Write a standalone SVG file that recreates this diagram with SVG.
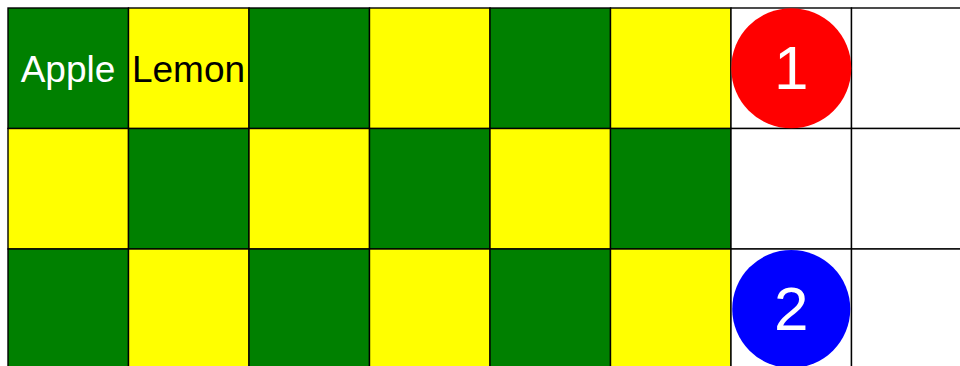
<svg xmlns="http://www.w3.org/2000/svg" width="960" height="366" viewBox="0 0 960 366">
<style>
.c{stroke:#000;stroke-width:1.4}
.g{fill:#008000}
.y{fill:#ffff00}
.w{fill:#fff}
text{font-family:"Liberation Sans",Arial,sans-serif;text-anchor:middle}
.lbl{font-size:37px}
.num{font-size:62px;fill:#fff}
</style>
<rect width="960" height="366" fill="#fff"/>
<g id="grid">
<rect class="c g" x="8" y="8" width="120.5" height="120.5"/>
<rect class="c y" x="128.5" y="8" width="120.5" height="120.5"/>
<rect class="c g" x="249" y="8" width="120.5" height="120.5"/>
<rect class="c y" x="369.5" y="8" width="120.5" height="120.5"/>
<rect class="c g" x="490" y="8" width="120.5" height="120.5"/>
<rect class="c y" x="610.5" y="8" width="120.5" height="120.5"/>
<rect class="c w" x="731" y="8" width="120.5" height="120.5"/>
<rect class="c w" x="851.5" y="8" width="120.5" height="120.5"/>
<rect class="c y" x="8" y="128.5" width="120.5" height="120.5"/>
<rect class="c g" x="128.5" y="128.5" width="120.5" height="120.5"/>
<rect class="c y" x="249" y="128.5" width="120.5" height="120.5"/>
<rect class="c g" x="369.5" y="128.5" width="120.5" height="120.5"/>
<rect class="c y" x="490" y="128.5" width="120.5" height="120.5"/>
<rect class="c g" x="610.5" y="128.5" width="120.5" height="120.5"/>
<rect class="c w" x="731" y="128.5" width="120.5" height="120.5"/>
<rect class="c w" x="851.5" y="128.5" width="120.5" height="120.5"/>
<rect class="c g" x="8" y="249" width="120.5" height="120.5"/>
<rect class="c y" x="128.5" y="249" width="120.5" height="120.5"/>
<rect class="c g" x="249" y="249" width="120.5" height="120.5"/>
<rect class="c y" x="369.5" y="249" width="120.5" height="120.5"/>
<rect class="c g" x="490" y="249" width="120.5" height="120.5"/>
<rect class="c y" x="610.5" y="249" width="120.5" height="120.5"/>
<rect class="c w" x="731" y="249" width="120.5" height="120.5"/>
<rect class="c w" x="851.5" y="249" width="120.5" height="120.5"/>
</g>
<g id="apple"><text class="lbl" x="68" y="82" fill="#fff">Apple</text></g>
<g id="lemon"><text class="lbl" x="188.5" y="82" fill="#000">Lemon</text></g>
<g id="marker1"><circle cx="791.25" cy="68.25" r="60" fill="#ff0000"/><text class="num" x="791.25" y="89">1</text></g>
<g id="marker2"><circle cx="791.25" cy="309" r="59" fill="#0000ff"/><text class="num" x="791.25" y="330">2</text></g>
<g id="connectors"/>
</svg>
